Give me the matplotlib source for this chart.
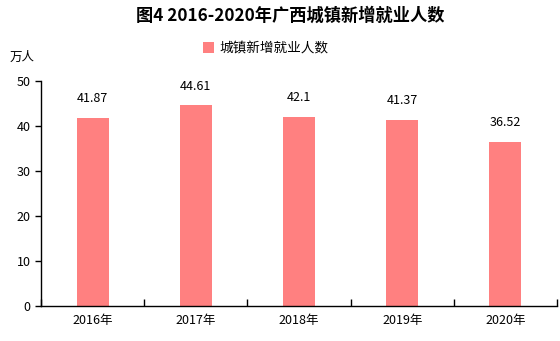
import matplotlib
matplotlib.use("Agg")
import matplotlib.pyplot as plt
import numpy as np

plt.rcParams['font.family'] = ['Noto Sans CJK SC', 'DejaVu Sans']

years = ['2016年', '2017年', '2018年', '2019年', '2020年']
values = [41.87, 44.61, 42.1, 41.37, 36.52]
value_labels = ['41.87', '44.61', '42.1', '41.37', '36.52']
series_name = '城镇新增就业人数'

fig = plt.figure(figsize=(5.6, 3.41), dpi=100)
ax = fig.add_axes([0.0732, 0.1026, 0.9214, 0.66])

x = np.arange(len(years))
bars = ax.bar(x, values, width=0.31, color='#FF8080', label=series_name, zorder=2)
for xi, v, lab in zip(x, values, value_labels):
    ax.annotate(lab, (xi, v), xytext=(0, 9), textcoords='offset points',
                ha='center', va='bottom', fontsize=9, color='black')

ax.set_xlim(-0.5, len(years) - 0.5)
ax.set_ylim(0, 50)
ax.set_yticks([0, 10, 20, 30, 40, 50])
ax.set_xticks(x)
ax.set_xticklabels(years, fontsize=9)
ax.tick_params(axis='y', labelsize=9, direction='out', length=4, width=1)
ax.tick_params(axis='x', length=0, pad=6)
ax.set_xticks(np.arange(len(years) + 1) - 0.5, minor=True)
ax.tick_params(axis='x', which='minor', direction='in', length=5, width=1)
for s in ['top', 'right']:
    ax.spines[s].set_visible(False)
ax.spines['left'].set_linewidth(1)
ax.spines['bottom'].set_linewidth(1)

fig.text(0.518, 0.953, '图4 2016-2020年广西城镇新增就业人数', ha='center', va='center',
         fontsize=12.4, fontweight='bold')
fig.text(0.04, 0.833, '万人', ha='center', va='center', fontsize=9)
ax.legend(loc='center', bbox_to_anchor=(0.474, 0.858), bbox_transform=fig.transFigure,
          frameon=False, fontsize=9.8, handlelength=0.8, handleheight=0.8, handletextpad=0.4)

fig.savefig('out.png', dpi=100)
